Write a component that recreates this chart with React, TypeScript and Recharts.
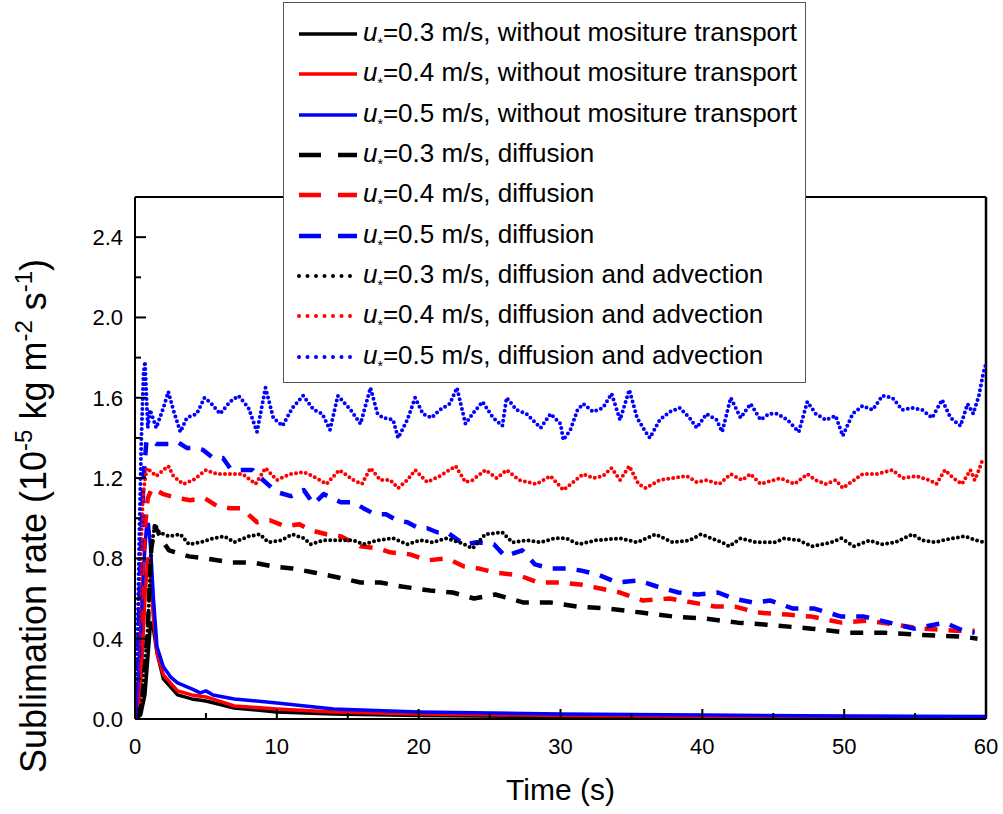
import { LineChart, Line, XAxis, YAxis, Legend, ReferenceLine } from "recharts";

type Pt = [number, number];

const timeTicks = [0, 5, 10, 15, 20, 25, 30, 35, 40, 45, 50, 55, 60];
const rateTicks = [0, 0.2, 0.4, 0.6, 0.8, 1.0, 1.2, 1.4, 1.6, 1.8, 2.0, 2.2, 2.4];

const speeds = ["0.3", "0.4", "0.5"];
const colors = ["#000000", "#ff0000", "#0000ff"];
const modes = ["without mositure transport", "diffusion", "diffusion and advection"];

// without moisture transport
const solidBlack: Pt[] = [
  [0, 0], [0.4, 0.02], [0.7, 0.12], [0.9, 0.3], [1.1, 0.48], [1.3, 0.45], [1.55, 0.33], [2, 0.2],
  [3, 0.12], [4, 0.1], [5, 0.09], [7, 0.055], [10, 0.035], [14, 0.025], [20, 0.018], [30, 0.012],
  [40, 0.01], [50, 0.008], [60, 0.007],
];
const solidRed: Pt[] = [
  [0, 0], [0.3, 0.05], [0.5, 0.3], [0.7, 0.6], [0.9, 0.8], [1.05, 0.75], [1.3, 0.5], [1.55, 0.33],
  [2, 0.22], [3, 0.14], [4, 0.12], [5, 0.11], [7, 0.065], [10, 0.05], [14, 0.035], [20, 0.025],
  [30, 0.018], [40, 0.014], [50, 0.012], [60, 0.01],
];
const solidBlue: Pt[] = [
  [0, 0], [0.2, 0.15], [0.4, 0.45], [0.6, 0.75], [0.8, 0.95], [0.95, 0.97], [1.1, 0.85], [1.3, 0.6],
  [1.55, 0.36], [2, 0.26], [2.5, 0.21], [3, 0.18], [4, 0.15], [4.6, 0.13], [5, 0.14], [5.5, 0.12],
  [7, 0.1], [10, 0.08], [14, 0.05], [20, 0.035], [30, 0.025], [40, 0.02], [50, 0.015], [60, 0.012],
];

// diffusion
const dashBlack: Pt[] = [
  [0, 0], [0.5, 0.08], [0.9, 0.45], [1.15, 0.85], [1.4, 0.96], [2.0, 0.88], [2.4, 0.84], [3.8, 0.81],
  [5.0, 0.8], [6.7, 0.78], [8.3, 0.78], [9.7, 0.76], [11.1, 0.75], [12.6, 0.73], [14.0, 0.71],
  [15.9, 0.68], [17.3, 0.68], [18.8, 0.66], [20.8, 0.64], [22.4, 0.63], [23.9, 0.6], [25.4, 0.62],
  [27.4, 0.58], [29.3, 0.58], [31.2, 0.56], [33.3, 0.55], [35.7, 0.53], [38.0, 0.51], [40.2, 0.5],
  [42.5, 0.48], [44.5, 0.47], [47.7, 0.45], [50.3, 0.43], [52.8, 0.43], [55.1, 0.42], [58.4, 0.41],
  [59.4, 0.4],
];
const dashRed: Pt[] = [
  [0, 0], [0.3, 0.3], [0.5, 0.7], [0.7, 0.95], [0.9, 1.1], [1.2, 1.15], [2.0, 1.12], [3.0, 1.1],
  [3.9, 1.09], [4.9, 1.1], [5.8, 1.06], [6.7, 1.05], [7.5, 1.05], [8.6, 0.98], [9.5, 0.99],
  [10.6, 0.96], [11.6, 0.97], [12.4, 0.94], [13.5, 0.92], [14.5, 0.91], [15.9, 0.86], [17.1, 0.85],
  [18.0, 0.83], [19.4, 0.82], [20.6, 0.79], [22.0, 0.8], [23.2, 0.76], [24.2, 0.75], [25.4, 0.73],
  [26.6, 0.72], [27.3, 0.71], [28.4, 0.68], [30.0, 0.68], [31.4, 0.67], [32.8, 0.65], [34.2, 0.63],
  [35.8, 0.59], [37.7, 0.6], [39.3, 0.58], [40.9, 0.56], [42.3, 0.56], [43.9, 0.53], [46.0, 0.52],
  [47.7, 0.51], [49.8, 0.48], [51.7, 0.49], [53.6, 0.47], [55.5, 0.45], [57.8, 0.44], [59.2, 0.44],
];
const dashBlue: Pt[] = [
  [0, 0], [0.2, 0.3], [0.4, 0.8], [0.6, 1.2], [0.8, 1.38], [1.06, 1.39], [1.5, 1.37], [2.35, 1.37],
  [3.0, 1.38], [3.65, 1.35], [4.35, 1.35], [4.8, 1.34], [5.5, 1.3], [6.2, 1.3], [6.7, 1.25],
  [7.4, 1.24], [8.3, 1.24], [8.7, 1.21], [10.0, 1.13], [11.0, 1.11], [11.9, 1.14], [12.6, 1.07],
  [13.3, 1.12], [14.5, 1.08], [15.4, 1.08], [16.1, 1.05], [16.9, 1.02], [17.7, 1.02], [18.45, 0.99],
  [19.2, 0.98], [20.0, 0.95], [20.6, 0.95], [21.3, 0.93], [22.0, 0.93], [23.2, 0.87], [24.1, 0.88],
  [25.3, 0.87], [26.1, 0.81], [27.3, 0.84], [28.2, 0.77], [29.3, 0.75], [30.4, 0.75], [31.4, 0.74],
  [32.6, 0.72], [34.0, 0.68], [35.5, 0.69], [36.8, 0.66], [38.3, 0.63], [39.7, 0.62], [41.1, 0.63],
  [42.2, 0.6], [43.6, 0.58], [44.8, 0.59], [46.4, 0.55], [47.9, 0.55], [49.8, 0.51], [51.4, 0.51],
  [53.2, 0.48], [54.9, 0.45], [57.1, 0.48], [58.4, 0.44], [59.2, 0.43],
];

// diffusion and advection
const dotBlack: Pt[] = [
  [0, 0], [0.5, 0.08], [0.9, 0.45], [1.15, 0.85], [1.4, 0.97], [1.7, 0.93], [2.4, 0.91], [3.2, 0.92],
  [3.8, 0.87], [4.6, 0.88], [5.5, 0.9], [6.3, 0.91], [7.0, 0.88], [8.0, 0.91], [8.8, 0.92], [9.4, 0.88],
  [10.3, 0.89], [11.1, 0.92], [11.9, 0.9], [12.4, 0.87], [13.3, 0.89], [14.4, 0.89], [15.4, 0.89],
  [16.1, 0.87], [17.1, 0.89], [18.2, 0.9], [19.2, 0.87], [20.1, 0.89], [21.0, 0.88], [21.9, 0.9],
  [22.9, 0.88], [23.8, 0.85], [24.7, 0.92], [25.9, 0.93], [26.6, 0.88], [27.6, 0.89], [28.6, 0.88],
  [29.6, 0.9], [30.4, 0.9], [31.3, 0.87], [32.5, 0.89], [34.2, 0.9], [35.4, 0.88], [36.7, 0.92],
  [37.9, 0.88], [39.1, 0.89], [39.9, 0.92], [41.4, 0.88], [41.9, 0.86], [42.7, 0.9], [43.8, 0.88],
  [45.1, 0.88], [45.8, 0.9], [46.8, 0.89], [47.7, 0.86], [49.1, 0.88], [49.8, 0.9], [50.7, 0.86],
  [51.8, 0.89], [52.6, 0.87], [53.6, 0.88], [54.8, 0.92], [55.5, 0.89], [56.4, 0.88], [57.6, 0.9],
  [58.5, 0.91], [59.3, 0.89], [59.9, 0.88],
];
const dotRed: Pt[] = [
  [0, 0], [0.2, 0.3], [0.4, 0.8], [0.55, 1.1], [0.7, 1.19], [0.85, 1.25], [1.5, 1.21], [2.0, 1.24],
  [2.35, 1.26], [2.7, 1.21], [3.4, 1.17], [4.1, 1.19], [5.0, 1.24], [5.8, 1.22], [6.7, 1.22],
  [7.6, 1.22], [8.5, 1.17], [9.2, 1.25], [10.0, 1.19], [10.95, 1.22], [11.9, 1.23], [12.8, 1.2],
  [13.5, 1.17], [14.4, 1.24], [15.4, 1.19], [16.0, 1.17], [16.6, 1.25], [17.3, 1.19], [18.0, 1.19],
  [18.55, 1.15], [19.2, 1.19], [19.75, 1.24], [20.6, 1.18], [21.5, 1.21], [22.6, 1.26], [23.3, 1.18],
  [23.8, 1.19], [24.7, 1.24], [25.5, 1.2], [26.2, 1.24], [27.1, 1.19], [28.3, 1.17], [29.3, 1.21],
  [30.2, 1.14], [30.9, 1.18], [31.6, 1.22], [32.3, 1.2], [33.0, 1.21], [33.6, 1.25], [34.2, 1.19],
  [34.85, 1.26], [35.5, 1.17], [36.0, 1.15], [37.0, 1.19], [37.9, 1.2], [38.9, 1.21], [39.6, 1.18],
  [40.3, 1.19], [41.2, 1.17], [42.0, 1.22], [42.8, 1.19], [43.4, 1.22], [44.1, 1.17], [45.5, 1.2],
  [46.5, 1.17], [47.4, 1.22], [48.0, 1.19], [48.7, 1.17], [49.4, 1.19], [49.9, 1.15], [50.7, 1.19],
  [51.3, 1.22], [52.3, 1.22], [53.4, 1.24], [54.1, 1.2], [55.1, 1.21], [56.0, 1.19], [56.5, 1.17],
  [57.1, 1.24], [57.7, 1.2], [58.3, 1.17], [58.9, 1.24], [59.2, 1.19], [59.5, 1.24], [59.8, 1.3],
];
const dotBlue: Pt[] = [
  [0, 0], [0.15, 0.3], [0.3, 0.9], [0.45, 1.4], [0.6, 1.72], [0.7, 1.78], [0.8, 1.62], [0.9, 1.45],
  [1.06, 1.54], [1.5, 1.45], [2.0, 1.55], [2.35, 1.63], [2.7, 1.54], [3.2, 1.43], [3.65, 1.5],
  [4.35, 1.52], [4.9, 1.6], [5.4, 1.57], [6.0, 1.52], [6.7, 1.58], [7.3, 1.61], [8.0, 1.55], [8.6, 1.43],
  [9.2, 1.65], [9.75, 1.5], [10.4, 1.46], [11.1, 1.55], [11.85, 1.61], [12.6, 1.54], [13.2, 1.52],
  [13.75, 1.44], [14.3, 1.61], [15.2, 1.54], [15.9, 1.47], [16.6, 1.65], [17.1, 1.52], [17.5, 1.5],
  [18.2, 1.49], [18.55, 1.4], [19.2, 1.49], [19.75, 1.6], [20.3, 1.52], [20.9, 1.5], [21.5, 1.54],
  [22.2, 1.57], [22.7, 1.65], [23.3, 1.47], [23.8, 1.52], [24.5, 1.58], [25.25, 1.5], [25.9, 1.46],
  [26.2, 1.6], [26.9, 1.54], [27.6, 1.52], [28.6, 1.45], [29.3, 1.52], [30.0, 1.47], [30.2, 1.39],
  [30.7, 1.44], [31.2, 1.54], [31.6, 1.57], [32.3, 1.53], [33.0, 1.55], [33.6, 1.62], [34.2, 1.49],
  [34.85, 1.64], [35.4, 1.5], [36.0, 1.43], [36.3, 1.4], [37.0, 1.49], [37.7, 1.53], [38.4, 1.55],
  [39.1, 1.5], [39.6, 1.45], [40.3, 1.52], [41.0, 1.49], [41.4, 1.43], [42.0, 1.6], [42.7, 1.5],
  [43.4, 1.57], [44.1, 1.49], [44.7, 1.52], [45.3, 1.52], [46.0, 1.49], [46.8, 1.43], [47.4, 1.58],
  [48.0, 1.52], [48.7, 1.49], [49.4, 1.51], [49.9, 1.41], [50.6, 1.52], [51.3, 1.56], [52.0, 1.54],
  [52.7, 1.61], [53.4, 1.6], [54.1, 1.54], [54.8, 1.55], [55.5, 1.54], [56.2, 1.5], [56.9, 1.59],
  [57.5, 1.5], [58.2, 1.46], [58.7, 1.57], [59.1, 1.52], [59.5, 1.61], [59.8, 1.72], [60, 1.77],
];

const series = [
  { pts: solidBlack, speed: 0, mode: 0 },
  { pts: solidRed, speed: 1, mode: 0 },
  { pts: solidBlue, speed: 2, mode: 0 },
  { pts: dashBlack, speed: 0, mode: 1 },
  { pts: dashRed, speed: 1, mode: 1 },
  { pts: dashBlue, speed: 2, mode: 1 },
  { pts: dotBlack, speed: 0, mode: 2 },
  { pts: dotRed, speed: 1, mode: 2 },
  { pts: dotBlue, speed: 2, mode: 2 },
];

const lineStyle = [
  { width: 3.5, dash: undefined, legendDash: undefined },
  { width: 4.5, dash: "13 11", legendDash: "22 17" },
  { width: 4, dash: "0 5", legendDash: "0 8.5" },
];

const font = '"Liberation Sans", Arial, sans-serif';

function YTick(props: any) {
  const { x, y, payload, index } = props;
  const major = index % 2 === 0;
  const ax = x + 14;
  return (
    <g>
      <line x1={ax} x2={ax + (major ? 11 : 6)} y1={y} y2={y} stroke="#000" strokeWidth={2} />
      {major && (
        <text x={ax - 12} y={y + 8} textAnchor="end" fontSize={22} fontFamily={font} fill="#000">
          {payload.value.toFixed(1)}
        </text>
      )}
    </g>
  );
}

function XTick(props: any) {
  const { x, y, payload, index } = props;
  const major = index % 2 === 0;
  const ay = y - 8;
  return (
    <g>
      <line x1={x} x2={x} y1={ay} y2={ay - (major ? 10 : 6)} stroke="#000" strokeWidth={2} />
      {major && (
        <text x={x} y={ay + 35} textAnchor="middle" fontSize={22} fontFamily={font} fill="#000">
          {payload.value}
        </text>
      )}
    </g>
  );
}

function LegendBox() {
  return (
    <div
      style={{
        border: "1px solid #555",
        background: "#fff",
        padding: "11px 4px 5px 13px",
        fontFamily: font,
        fontSize: 26,
        color: "#000",
      }}
    >
      {series.map((s, i) => {
        const st = lineStyle[s.mode];
        return (
          <div key={i} style={{ display: "flex", alignItems: "center", height: 40.3, whiteSpace: "nowrap" }}>
            <svg width={62} height={10} style={{ flex: "none" }}>
              <line
                x1={2}
                x2={60}
                y1={5}
                y2={5}
                stroke={colors[s.speed]}
                strokeWidth={st.width}
                strokeDasharray={st.legendDash}
                strokeLinecap={s.mode === 2 ? "round" : "butt"}
              />
            </svg>
            <span style={{ marginLeft: 4, lineHeight: "26px" }}>
              <i>u</i>
              <span style={{ fontSize: 14, position: "relative", top: 7 }}>*</span>=
              {speeds[s.speed]} m/s, {modes[s.mode]}
            </span>
          </div>
        );
      })}
    </div>
  );
}

function YLabel(props: any) {
  const { viewBox } = props;
  const cx = 46;
  const cy = viewBox.y + viewBox.height / 2 + 58;
  return (
    <text
      x={cx}
      y={cy}
      transform={`rotate(-90 ${cx} ${cy})`}
      textAnchor="middle"
      fontSize={36}
      fontFamily={font}
      fill="#000"
    >
      Sublimation rate (10
      <tspan dy={-14} fontSize={24}>-5</tspan>
      <tspan dy={14}> kg m</tspan>
      <tspan dy={-14} fontSize={24}>-2</tspan>
      <tspan dy={14}> s</tspan>
      <tspan dy={-14} fontSize={24}>-1</tspan>
      <tspan dy={14}>)</tspan>
    </text>
  );
}

function XLabel(props: any) {
  const { viewBox } = props;
  return (
    <text
      x={viewBox.x + viewBox.width / 2}
      y={viewBox.y + 81}
      textAnchor="middle"
      fontSize={30}
      fontFamily={font}
      fill="#000"
    >
      Time (s)
    </text>
  );
}

export default function App() {
  return (
    <div style={{ position: "absolute", left: 0, top: 0, background: "#fff" }}>
      <LineChart width={1003} height={814} margin={{ top: 197, right: 17, bottom: 55, left: 75 }}>
        <XAxis
          dataKey="t"
          type="number"
          domain={[0, 60]}
          ticks={timeTicks}
          interval={0}
          tickSize={0}
          tickMargin={8}
          height={40}
          axisLine={{ stroke: "#000", strokeWidth: 2 }}
          tickLine={false}
          tick={<XTick />}
          label={XLabel}
          allowDataOverflow
        />
        <YAxis
          type="number"
          domain={[0, 2.6]}
          ticks={rateTicks}
          interval={0}
          tickSize={0}
          tickMargin={14}
          width={60}
          axisLine={{ stroke: "#000", strokeWidth: 2 }}
          tickLine={false}
          tick={<YTick />}
          label={YLabel}
          allowDataOverflow
        />
        <ReferenceLine y={2.6} stroke="#000" strokeWidth={2} ifOverflow="visible" />
        <ReferenceLine x={60} stroke="#000" strokeWidth={2.5} ifOverflow="visible" />
        {series.map((s, i) => {
          const st = lineStyle[s.mode];
          return (
            <Line
              key={i}
              data={s.pts.map(([t, v]) => ({ t, v }))}
              dataKey="v"
              type="linear"
              stroke={colors[s.speed]}
              strokeWidth={st.width}
              strokeDasharray={st.dash}
              strokeLinecap={s.mode === 2 ? "round" : "butt"}
              strokeLinejoin="round"
              dot={false}
              activeDot={false}
              isAnimationActive={false}
            />
          );
        })}
        <Legend
          layout="vertical"
          align="center"
          verticalAlign="middle"
          content={<LegendBox />}
          wrapperStyle={{ top: 2, left: 283, width: 523 }}
        />
      </LineChart>
    </div>
  );
}
